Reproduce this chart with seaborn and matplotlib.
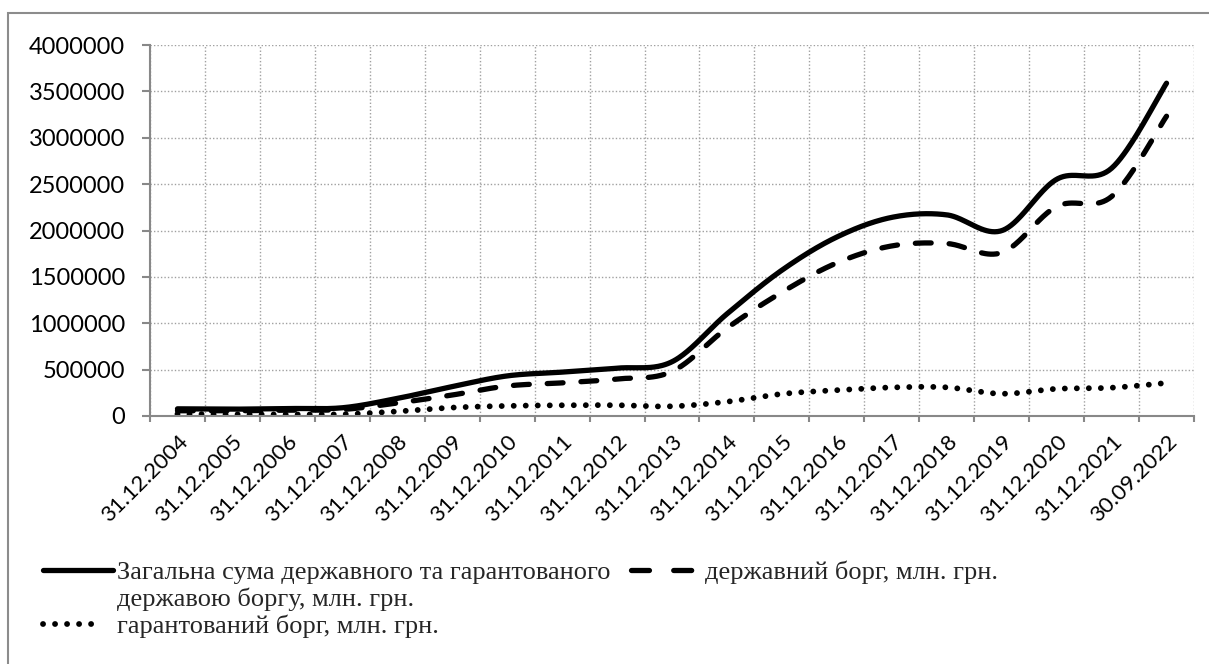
import numpy as np
import pandas as pd
import matplotlib
matplotlib.use("Agg")
import matplotlib.pyplot as plt
import seaborn as sns
from matplotlib.lines import Line2D
from matplotlib.patches import Rectangle
from matplotlib.legend_handler import HandlerLine2D
from matplotlib.ticker import FixedLocator, StrMethodFormatter, NullFormatter

# ---------------- data (млн. грн.) ----------------
dates = ["31.12.2004", "31.12.2005", "31.12.2006", "31.12.2007", "31.12.2008",
         "31.12.2009", "31.12.2010", "31.12.2011", "31.12.2012", "31.12.2013",
         "31.12.2014", "31.12.2015", "31.12.2016", "31.12.2017", "31.12.2018",
         "31.12.2019", "31.12.2020", "31.12.2021", "30.09.2022"]
total = [77264, 73785, 80579, 88743, 189410, 316884, 432235, 473122, 515511,
         584771, 1100833, 1572180, 1929759, 2141674, 2168627, 1998275,
         2551944, 2671132, 3588000]
state = [56540, 56410, 62832, 70190, 140030, 226252, 323475, 357290, 399211,
         480219, 947031, 1334294, 1650830, 1833710, 1859790, 1761330,
         2259000, 2366000, 3232000]
guaranteed = [20729, 17375, 17747, 18553, 49380, 90632, 108760, 115832, 116300,
              104552, 153802, 237886, 278929, 307964, 308834, 240000,
              292944, 305000, 356000]

lab_total = "Загальна сума державного та гарантованого"
lab_total2 = "державою боргу, млн. грн."
lab_state = "державний борг, млн. грн."
lab_guar = "гарантований борг, млн. грн."

W, H = 1209, 664
sns.set_theme(style="white")
plt.rcParams["font.family"] = ["Lato", "DejaVu Sans"]

fig = plt.figure(figsize=(W / 100, H / 100), dpi=100)
ax = fig.add_axes([150 / W, 1 - 416 / H, (1194 - 150) / W, (416 - 45) / H])


def excel_smooth(vals, n=40):
    """Excel-like smoothed line (cubic Bezier through the data points)."""
    y = np.asarray(vals, float)
    x = np.arange(len(y), dtype=float)
    xs, ys = [], []
    m = len(y)
    for i in range(m - 1):
        p0 = i - 1 if i > 0 else i
        p3 = i + 2 if i + 2 < m else i + 1
        c1x = x[i] + (x[i + 1] - x[p0]) / 6
        c1y = y[i] + (y[i + 1] - y[p0]) / 6
        c2x = x[i + 1] - (x[p3] - x[i]) / 6
        c2y = y[i + 1] - (y[p3] - y[i]) / 6
        t = np.linspace(0, 1, n, endpoint=(i == m - 2))
        a, b, c, d = (1 - t) ** 3, 3 * (1 - t) ** 2 * t, 3 * (1 - t) * t ** 2, t ** 3
        xs.append(a * x[i] + b * c1x + c * c2x + d * x[i + 1])
        ys.append(a * y[i] + b * c1y + c * c2y + d * y[i + 1])
    return np.concatenate(xs), np.concatenate(ys)


LW = 3.8
LW_DOT = 4.2
styles = {
    "total": dict(linestyle="-", solid_capstyle="round", lw=LW),
    "state": dict(linestyle=(0, (3.0, 3.4)), dash_capstyle="round", lw=LW),
    "guar": dict(linestyle=(0, (0.01, 2.05)), dash_capstyle="round", lw=LW_DOT),
}

for key, vals in [("guar", guaranteed), ("state", state), ("total", total)]:
    sx, sy = excel_smooth(vals)
    df = pd.DataFrame({"x": sx, "y": sy})
    sns.lineplot(data=df, x="x", y="y", sort=False, estimator=None, ax=ax,
                 color="black", **styles[key])

n = len(dates)
ax.set_xlim(-0.5, n - 0.5)
ax.set_ylim(0, 4000000)
ax.set_xlabel("")
ax.set_ylabel("")

# y axis
ax.yaxis.set_major_locator(FixedLocator(np.arange(0, 4000001, 500000)))
ax.yaxis.set_major_formatter(StrMethodFormatter("{x:.0f}"))
# x axis: boundaries as major ticks, labels at category centres
ax.xaxis.set_major_locator(FixedLocator(np.arange(-0.5, n, 1.0)))
ax.xaxis.set_major_formatter(NullFormatter())
ax.xaxis.set_minor_locator(FixedLocator(np.arange(n)))
ax.set_xticklabels(dates, minor=True, rotation=45, ha="right", va="top",
                   rotation_mode="anchor")

grid_kw = dict(color="#a0a0a0", lw=1.0, linestyle=(0, (1, 1.5)))
ax.grid(True, which="major", axis="both", **grid_kw)
ax.set_axisbelow(True)

for s in ["top", "right"]:
    ax.spines[s].set_visible(False)
for s in ["left", "bottom"]:
    ax.spines[s].set_color("#888888")
    ax.spines[s].set_linewidth(1.5)

ax.tick_params(axis="y", which="major", length=6, width=1.5, color="#888888",
               pad=12, labelsize=17, labelcolor="black", left=True)
ax.tick_params(axis="x", which="major", length=4, width=1.5, color="#888888",
               bottom=True)
ax.tick_params(axis="x", which="minor", length=0, pad=11, labelsize=16,
               labelcolor="black", bottom=True)


# legend handler that draws only part of the handle box
class PartHandler(HandlerLine2D):
    def __init__(self, f0, f1, **kw):
        super().__init__(**kw)
        self.f0, self.f1 = f0, f1

    def get_xdata(self, legend, xdescent, ydescent, width, height, fontsize):
        a = -xdescent + width * self.f0
        b = -xdescent + width * self.f1
        return np.array([a, b]), np.array([a, b])


h_total = Line2D([], [], color="black", **styles["total"])
h_blank = Line2D([], [], color="none", lw=0)
h_blank2 = Line2D([], [], color="none", lw=0)
h_guar = Line2D([], [], color="black", **styles["guar"])
h_state = Line2D([], [], color="black", lw=LW,
                 linestyle=(0, (3.4, 4.6)), dash_capstyle="round")
fig.legend([h_total, h_blank, h_guar, h_state, h_blank2],
           [lab_total, lab_total2, lab_guar, lab_state, ""],
           ncol=2, loc="upper left", bbox_to_anchor=(40 / W, 1 - 561 / H),
           frameon=False, borderpad=0, borderaxespad=0,
           handlelength=2.85, handletextpad=0.07, columnspacing=0.66,
           labelspacing=0.12,
           handler_map={h_total: PartHandler(0.035, 0.97),
                        h_guar: PartHandler(0.035, 0.74),
                        h_state: PartHandler(0.04, 0.85)},
           prop={"family": ["Liberation Serif", "DejaVu Serif"], "size": 19})

# outer chart border
fig.add_artist(Rectangle((8 / W, -0.2), 1.5, 1 - 13 / H + 0.2, fill=False,
                         edgecolor="#8c8c8c", lw=1.5,
                         transform=fig.transFigure))

fig.savefig("out.png", dpi=100)
